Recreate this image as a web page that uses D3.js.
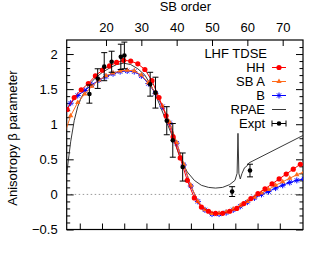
<!DOCTYPE html>
<html><head><meta charset="utf-8">
<script src="https://cdn.jsdelivr.net/npm/d3@7"></script>
<style>
body{margin:0;background:#fff}
text{font-family:"Liberation Sans",Arial,Helvetica,sans-serif;fill:#000}
</style>
</head><body>
<svg id="c" width="327" height="257"></svg>
<script>
// ---------- data ----------
const hhOrders = [9,11,13,15,17,19,21,23,25,27,29,31,33,35,37,39,41,43,45,47,49,51,53,55,57,59,61,63,65,67,69,71,73,75];
const hhValues = [1.21,1.38,1.49,1.58,1.69,1.77,1.83,1.88,1.91,1.90,1.86,1.78,1.62,1.38,1.12,0.82,0.52,0.20,-0.05,-0.18,-0.24,-0.27,-0.27,-0.24,-0.20,-0.13,-0.06,0.01,0.08,0.15,0.22,0.29,0.36,0.43];
const sbOrders = [8,10,12,14,16,18,20,22,24,26,28,30,32,34,36,38,40,42,44,46,48,50,52,54,56,58,60,62,64,66,68,70,72,74,76];
const sbAValues = [0.82,1.12,1.31,1.43,1.54,1.63,1.69,1.73,1.76,1.77,1.76,1.70,1.59,1.45,1.26,1.03,0.74,0.43,0.13,-0.10,-0.22,-0.27,-0.27,-0.25,-0.21,-0.16,-0.10,-0.04,0.02,0.07,0.13,0.18,0.23,0.28,0.32];
const sbBValues = [1.15,1.30,1.41,1.48,1.56,1.63,1.68,1.72,1.75,1.76,1.75,1.69,1.58,1.44,1.25,1.02,0.73,0.42,0.12,-0.10,-0.22,-0.28,-0.28,-0.26,-0.22,-0.17,-0.11,-0.05,0.00,0.04,0.09,0.13,0.17,0.20,0.22];
const rpaeOrders = [8.9,9.5,10,11,12,13,15,17,19,21,23,25,27,29,31,33,35,37,39,41,43,45,47,49,51,53,55,56.5,57.1,57.35,57.6,58.0,58.5,59.2,59.8,60.5,75.75];
const rpaeValues = [0.30,0.55,0.75,1.05,1.25,1.38,1.55,1.66,1.74,1.80,1.85,1.87,1.85,1.79,1.70,1.53,1.30,1.05,0.80,0.52,0.32,0.20,0.13,0.10,0.09,0.10,0.14,0.20,0.30,0.87,0.30,0.22,0.30,0.38,0.40,0.45,0.84];
const exptOrders = [15.3,17.65,19.5,21.6,24.2,25.2,32.5,34.0,37.2,38.9,41.7,55.7,60.75];
const exptValues = [1.43,1.65,1.82,1.89,1.96,1.98,1.57,1.45,1.05,0.77,0.39,0.04,0.34];
const exptErrors = [0.13,0.14,0.20,0.15,0.18,0.19,0.17,0.22,0.20,0.24,0.20,0.07,0.09];
const topTicks = [20,30,40,50,60,70];
const energyTicks = [20,30,40,50,60,70,80,90,100,110];
const yMajorTicks = [-0.5,0,0.5,1,1.5,2];
const yMinorTicks = [-0.4,-0.3,-0.2,-0.1,0.1,0.2,0.3,0.4,0.6,0.7,0.8,0.9,1.1,1.2,1.3,1.4,1.6,1.7,1.8,1.9,2.1];
const legendTitle = "LHF TDSE";
const legendLabels = ["HH","SB A","B","RPAE","Expt"];
const photonEnergy = 1.59;

// ---------- layout ----------
const L = 66.7, R = 303, T = 40, B = 229.5;
const svg = d3.select("#c");
const x = d3.scaleLinear().domain([8.88, 75.75]).range([L, R]);
const xe = d3.scaleLinear().domain([8.88*photonEnergy, 75.75*photonEnergy]).range([L, R]);
const y = d3.scaleLinear().domain([-0.5, 2.2]).range([B, T]);

const colRed = "#ff0000", colOrange = "#ff6a1a", colBlue = "#0000ff";

svg.append("defs").append("clipPath").attr("id","clip")
  .append("rect").attr("x",L).attr("y",T).attr("width",R-L).attr("height",B-T);

// zero line
svg.append("line").attr("x1",L).attr("x2",R).attr("y1",y(0)).attr("y2",y(0))
  .attr("stroke","#999").attr("stroke-width",1).attr("stroke-dasharray","1.5,2.5");

// axes
function styleAxis(g){
  g.select(".domain").remove();
  g.selectAll("line").attr("stroke","#000").attr("stroke-width",1);
  g.selectAll("text").style("font-size","13px").attr("font-family","Liberation Sans, Arial, sans-serif");
}
svg.append("g").attr("transform",`translate(0,${T})`)
  .call(d3.axisTop(x).tickValues(topTicks).tickSize(-6).tickPadding(8)).call(styleAxis);
svg.append("g").attr("transform",`translate(0,${B})`)
  .call(d3.axisBottom(xe).tickValues(energyTicks).tickSize(-6).tickFormat("")).call(styleAxis);
svg.append("g").attr("transform",`translate(${L},0)`)
  .call(d3.axisLeft(y).tickValues(yMajorTicks).tickSize(-7).tickPadding(9).tickFormat(d3.format("~g"))).call(styleAxis);
svg.append("g").attr("transform",`translate(${L},0)`)
  .call(d3.axisLeft(y).tickValues(yMinorTicks).tickSize(-3.5).tickFormat("")).call(styleAxis);
svg.append("g").attr("transform",`translate(${R},0)`)
  .call(d3.axisRight(y).tickValues(yMajorTicks).tickSize(-7).tickFormat("")).call(styleAxis);
svg.append("g").attr("transform",`translate(${R},0)`)
  .call(d3.axisRight(y).tickValues(yMinorTicks).tickSize(-3.5).tickFormat("")).call(styleAxis);

// frame
svg.append("rect").attr("x",L).attr("y",T).attr("width",R-L).attr("height",B-T)
  .attr("fill","none").attr("stroke","#000").attr("stroke-width",1.2);

// titles
svg.append("text").attr("x",(L+R)/2+0.5).attr("y",10.5).attr("text-anchor","middle")
  .style("font-size","13px").text("SB order");
svg.append("text").attr("transform","translate(17,138) rotate(-90)").attr("text-anchor","middle")
  .style("font-size","13px").text("Anisotropy β parameter");

const plot = svg.append("g").attr("clip-path","url(#clip)");
const line = d3.line().x(d=>x(d[0])).y(d=>y(d[1]));

// RPAE
plot.append("path").datum(rpaeOrders.map((o,i)=>[o,rpaeValues[i]]))
  .attr("d",line).attr("fill","none").attr("stroke","#222").attr("stroke-width",0.9);

// series
const hh = hhOrders.map((o,i)=>[o,hhValues[i]]);
const sa = sbOrders.map((o,i)=>[o,sbAValues[i]]);
const sb = sbOrders.map((o,i)=>[o,sbBValues[i]]);

function starPath(s){
  const a = s*0.7;
  return `M${-s},0L${s},0M0,${-s}L0,${s}M${-a},${-a}L${a},${a}M${-a},${a}L${a},${-a}`;
}

plot.append("path").datum(sb).attr("d",line).attr("fill","none").attr("stroke",colBlue).attr("stroke-width",1);
plot.selectAll(".pb").data(sb).join("path").attr("class","pb")
  .attr("transform",d=>`translate(${x(d[0])},${y(d[1])})`).attr("d",starPath(3))
  .attr("stroke",colBlue).attr("stroke-width",1).attr("fill","none");

plot.append("path").datum(sa).attr("d",line).attr("fill","none").attr("stroke",colOrange).attr("stroke-width",1);
plot.selectAll(".pa").data(sa).join("path").attr("class","pa")
  .attr("transform",d=>`translate(${x(d[0])},${y(d[1])})`)
  .attr("d",d3.symbol(d3.symbolTriangle,12)()).attr("fill",colOrange);

plot.append("path").datum(hh).attr("d",line).attr("fill","none").attr("stroke",colRed).attr("stroke-width",1);
plot.selectAll(".ph").data(hh).join("circle").attr("class","ph")
  .attr("cx",d=>x(d[0])).attr("cy",d=>y(d[1])).attr("r",2.6).attr("fill",colRed);

// experiment
const ex = exptOrders.map((o,i)=>({o, v:exptValues[i], e:exptErrors[i]}));
const eg = plot.selectAll(".ex").data(ex).join("g").attr("class","ex");
eg.append("line").attr("x1",d=>x(d.o)).attr("x2",d=>x(d.o)).attr("y1",d=>y(d.v-d.e)).attr("y2",d=>y(d.v+d.e))
  .attr("stroke","#000").attr("stroke-width",1);
eg.append("line").attr("x1",d=>x(d.o)-3).attr("x2",d=>x(d.o)+3).attr("y1",d=>y(d.v-d.e)).attr("y2",d=>y(d.v-d.e))
  .attr("stroke","#000").attr("stroke-width",1);
eg.append("line").attr("x1",d=>x(d.o)-3).attr("x2",d=>x(d.o)+3).attr("y1",d=>y(d.v+d.e)).attr("y2",d=>y(d.v+d.e))
  .attr("stroke","#000").attr("stroke-width",1);
eg.append("circle").attr("cx",d=>x(d.o)).attr("cy",d=>y(d.v)).attr("r",2.3).attr("fill","#000");

// legend
const lx = 265, ly0 = 53.5, dy = 14, sx0 = 272, sx1 = 286;
svg.append("text").attr("x",267).attr("y",ly0).attr("dy","0.35em").attr("text-anchor","end")
  .style("font-size","13px").text(legendTitle);
legendLabels.forEach((lab,i)=>{
  const yy = ly0 + dy*(i+1);
  svg.append("text").attr("x",lx).attr("y",yy).attr("dy","0.35em").attr("text-anchor","end")
    .style("font-size","13px").text(lab);
  const g = svg.append("g");
  const cx = (sx0+sx1)/2;
  if(i===0){
    g.append("line").attr("x1",sx0).attr("x2",sx1).attr("y1",yy).attr("y2",yy).attr("stroke",colRed);
    g.append("circle").attr("cx",cx).attr("cy",yy).attr("r",2.6).attr("fill",colRed);
  } else if(i===1){
    g.append("line").attr("x1",sx0).attr("x2",sx1).attr("y1",yy).attr("y2",yy).attr("stroke",colOrange);
    g.append("path").attr("transform",`translate(${cx},${yy})`).attr("d",d3.symbol(d3.symbolTriangle,12)()).attr("fill",colOrange);
  } else if(i===2){
    g.append("line").attr("x1",sx0).attr("x2",sx1).attr("y1",yy).attr("y2",yy).attr("stroke",colBlue);
    g.append("path").attr("transform",`translate(${cx},${yy})`).attr("d",starPath(3)).attr("stroke",colBlue).attr("fill","none");
  } else if(i===3){
    g.append("line").attr("x1",sx0).attr("x2",sx1).attr("y1",yy).attr("y2",yy).attr("stroke","#222").attr("stroke-width",0.9);
  } else {
    g.append("line").attr("x1",sx0).attr("x2",sx1).attr("y1",yy).attr("y2",yy).attr("stroke","#000");
    g.append("line").attr("x1",sx0).attr("x2",sx0).attr("y1",yy-3).attr("y2",yy+3).attr("stroke","#000");
    g.append("line").attr("x1",sx1).attr("x2",sx1).attr("y1",yy-3).attr("y2",yy+3).attr("stroke","#000");
    g.append("circle").attr("cx",cx).attr("cy",yy).attr("r",2.3).attr("fill","#000");
  }
});
</script>
</body></html>
